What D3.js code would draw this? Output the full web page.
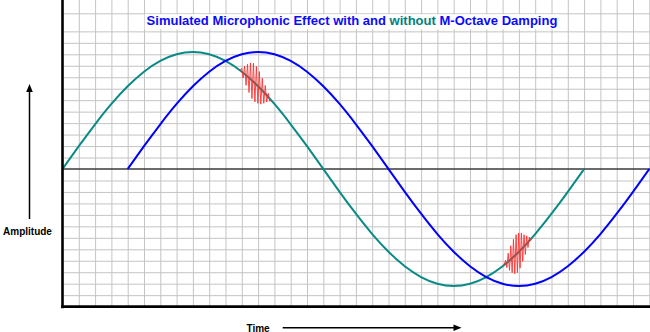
<!DOCTYPE html>
<html><head><meta charset="utf-8">
<script src="https://cdn.jsdelivr.net/npm/d3@7"></script>
<style>html,body{margin:0;padding:0;background:#fff;}svg{display:block;}</style>
</head><body>
<script>
// ---- data (time in grid columns, amplitude in grid rows) ----
const tealTime = [0,1,2,3,4,5,6,7,8,9,10,11,12,13,14,15,16,17,18,19,20,21,22,23,24,25,26,27,28,29,30,31,32];
const tealAmp  = [0,1.99,3.90,5.67,7.21,8.48,9.42,10.00,10.20,10.00,9.42,8.48,7.21,5.67,3.90,1.99,0,
                  -1.99,-3.90,-5.67,-7.21,-8.48,-9.42,-10.00,-10.20,-10.00,-9.42,-8.48,-7.21,-5.67,-3.90,-1.99,0];
const blueTime = [4,5,6,7,8,9,10,11,12,13,14,15,16,17,18,19,20,21,22,23,24,25,26,27,28,29,30,31,32,33,34,35,36];
const blueAmp  = [0,1.99,3.90,5.67,7.21,8.48,9.42,10.00,10.20,10.00,9.42,8.48,7.21,5.67,3.90,1.99,0,
                  -1.99,-3.90,-5.67,-7.21,-8.48,-9.42,-10.00,-10.20,-10.00,-9.42,-8.48,-7.21,-5.67,-3.90,-1.99,0];
// microphonic bursts riding on the teal trace
const burst1Span = [10.9, 12.8];
const burst1Offsets = [0,0.3,-0.45,0.7,-0.85,1.1,-1.25,1.45,-1.55,1.65,-1.6,1.6,-1.5,1.4,-1.3,1.1,-0.95,0.75,-0.55,0.35,-0.2,0];
const burst2Span = [27.1, 28.8];
const burst2Offsets = [0,0.3,-0.45,0.7,-0.9,1.15,-1.3,1.5,-1.6,1.7,-1.7,1.65,-1.55,1.4,-1.2,1.0,-0.85,0.65,-0.5,0.3,-0.15,0];
const titleParts = [["Simulated Microphonic Effect with and ", "#0a0aff"], ["without", "#008080"], [" M-Octave Damping", "#0a0aff"]];
const xLabel = "Time";
const yLabel = "Amplitude";

// ---- layout ----
const W = 650, H = 332;
const left = 62.5, right = 649.3, zeroY = 169, rowH = 11.47;
const x = d3.scaleLinear().domain([0, 36]).range([left, right]);
const y = d3.scaleLinear().domain([0, 1]).range([zeroY, zeroY - rowH]);
const bottomY = y(-12);

const svg = d3.select("body").append("svg").attr("width", W).attr("height", H);

// grid
const gridColor = "#c4c4c4";
const gx = svg.append("g").attr("transform", `translate(0,${bottomY})`)
  .call(d3.axisBottom(x).tickValues(d3.range(1, 37)).tickSize(-bottomY).tickFormat(""));
gx.select(".domain").remove();
gx.selectAll("line").attr("stroke", gridColor).attr("stroke-width", 1);
const rowVals = d3.range(-11, 13).filter(v => v !== 0).concat([(zeroY - 13.3) / rowH]);
const gy = svg.append("g").attr("transform", `translate(${left},0)`)
  .call(d3.axisLeft(y).tickValues(rowVals).tickSize(-(W - left)).tickFormat(""));
gy.select(".domain").remove();
gy.selectAll("line").attr("stroke", gridColor).attr("stroke-width", 1);

// zero line
svg.append("line").attr("x1", left).attr("x2", W).attr("y1", y(0)).attr("y2", y(0))
  .attr("stroke", "#3a3a3a").attr("stroke-width", 1.7);

// curves
const line = d3.line().x(d => x(d[0])).y(d => y(d[1])).curve(d3.curveNatural);
svg.append("path").datum(tealTime.map((t, i) => [t, tealAmp[i]]))
  .attr("d", line).attr("fill", "none").attr("stroke", "#0a8a86").attr("stroke-width", 2);
svg.append("path").datum(blueTime.map((t, i) => [t, blueAmp[i]]))
  .attr("d", line).attr("fill", "none").attr("stroke", "#0000ff").attr("stroke-width", 2);

// bursts
const tealAt = d3.scaleLinear().domain(tealTime).range(tealAmp);
function burst(span, offs) {
  const n = offs.length;
  const pts = offs.map((o, i) => {
    const t = span[0] + (span[1] - span[0]) * i / (n - 1);
    return [t, tealAt(t) + o];
  });
  svg.append("path").datum(pts)
    .attr("d", d3.line().x(d => x(d[0])).y(d => y(d[1])))
    .attr("fill", "none").attr("stroke", "#ff2a2a").attr("stroke-width", 1).attr("stroke-opacity", 0.85);
}
burst(burst1Span, burst1Offsets);
burst(burst2Span, burst2Offsets);

// axes frame
svg.append("line").attr("x1", left).attr("x2", left).attr("y1", 0).attr("y2", bottomY + 1.5)
  .attr("stroke", "#000").attr("stroke-width", 2.6);
svg.append("line").attr("x1", left - 1.3).attr("x2", W).attr("y1", bottomY).attr("y2", bottomY)
  .attr("stroke", "#000").attr("stroke-width", 2.6);

// title
const titleG = svg.append("g");
const tbg = titleG.append("rect").attr("fill", "#fff");
const title = titleG.append("text").attr("x", 352).attr("y", 25).attr("text-anchor", "middle")
  .attr("font-family", "Liberation Sans, Arial, sans-serif").attr("font-weight", "bold").attr("font-size", 12);
titleParts.forEach(p => title.append("tspan").attr("fill", p[1]).text(p[0]));
title.style("white-space", "pre");
let tw = title.node().getComputedTextLength();
const fs = 12 * 411 / tw;
title.attr("font-size", fs);
const bb = title.node().getBBox();
tbg.attr("x", bb.x - 2).attr("y", 14.3).attr("width", bb.width + 4).attr("height", 15);

// axis labels with arrows
const lab = { "font-family": "Liberation Sans, Arial, sans-serif", "font-weight": "bold", "font-size": 10 };
const yl = svg.append("text").attr("x", 27.5).attr("y", 235).attr("text-anchor", "middle").text(yLabel);
const xl = svg.append("text").attr("x", 246.5).attr("y", 331.5).text(xLabel);
[yl, xl].forEach(t => Object.entries(lab).forEach(([k, v]) => t.attr(k, v)));

svg.append("line").attr("x1", 29.5).attr("x2", 29.5).attr("y1", 219).attr("y2", 90)
  .attr("stroke", "#000").attr("stroke-width", 1.5);
svg.append("path").attr("d", "M29.5,84 L26.2,92 L32.8,92 Z").attr("fill", "#000");
svg.append("line").attr("x1", 282.7).attr("x2", 455).attr("y1", 327.7).attr("y2", 327.7)
  .attr("stroke", "#000").attr("stroke-width", 1.5);
svg.append("path").attr("d", "M461.5,327.7 L453.5,324.4 L453.5,331 Z").attr("fill", "#000");
</script>
</body></html>
